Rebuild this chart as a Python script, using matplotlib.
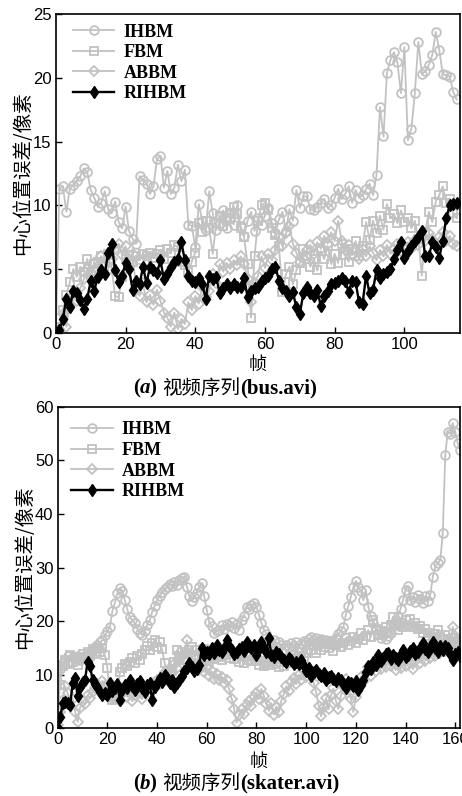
import numpy as np
import matplotlib
matplotlib.use("Agg")
import matplotlib.pyplot as plt
from matplotlib.offsetbox import TextArea, HPacker, AnnotationBbox

# ---- data (center position error, pixels) ----
names = ['IHBM', 'FBM', 'ABBM', 'RIHBM']

bus_ihbm = [0, 11.3, 11.5, 9.5, 11.3, 11.6, 11.9, 12.3, 12.9, 12.6, 11.2, 10.6, 9.9, 10.2, 11.1, 9.7,
            9.4, 10.3, 8.7, 8.2, 9.9, 8.0, 7.4, 7.0, 12.3, 12.0, 11.7, 10.9, 11.5, 13.6, 13.9, 11.4,
            12.7, 10.9, 11.4, 13.2, 11.9, 12.8, 8.5, 8.4, 6.7, 10.1, 8.8, 8.1, 11.1, 9.4, 8.1, 8.6,
            9.6, 8.2, 9.0, 8.5, 10.0, 8.4, 7.6, 8.8, 9.5, 8.0, 9.0, 8.5, 9.2, 9.8, 8.6, 7.8,
            8.9, 9.5, 8.0, 9.7, 8.8, 11.2, 9.8, 10.7, 10.7, 9.7, 9.6, 9.9, 10.2, 10.5, 9.8, 10.0,
            10.6, 11.3, 10.5, 10.9, 11.5, 10.2, 11.2, 10.6, 10.8, 11.3, 11.7, 10.8, 12.4, 17.7, 15.4, 20.4,
            21.4, 22.0, 21.2, 18.8, 22.4, 15.1, 16.0, 18.8, 22.8, 20.3, 20.5, 21.0, 21.8, 23.6, 22.2, 20.3,
            20.2, 20.1, 18.9, 18.3]
bus_fbm = [0.0, 0.5, 1.8, 3.0, 4.0, 5.0, 4.4, 5.2, 4.8, 5.8, 4.5, 5.4, 5.6, 6.0, 5.5, 6.2,
           5.0, 2.9, 2.8, 4.4, 5.8, 6.1, 5.6, 6.0, 5.7, 6.2, 6.0, 6.3, 5.9, 6.2, 6.5, 5.8,
           6.6, 6.3, 6.9, 6.7, 5.6, 5.3, 4.8, 5.6, 6.3, 8.6, 7.9, 8.8, 8.2, 6.2, 8.6, 9.2,
           8.4, 9.0, 9.4, 9.9, 9.3, 8.2, 7.5, 5.4, 1.2, 6.0, 8.8, 10.0, 10.2, 9.6, 8.2, 7.7,
           6.8, 3.2, 4.6, 5.2, 3.8, 4.9, 5.5, 6.6, 6.0, 5.2, 5.8, 4.9, 6.4, 5.8, 6.8, 5.4,
           6.2, 5.5, 7.0, 6.1, 5.6, 6.6, 7.2, 6.0, 6.8, 8.7, 7.3, 8.8, 7.8, 9.2, 8.1, 10.1,
           9.0, 9.3, 8.6, 9.6, 8.7, 9.0, 8.2, 8.8, 7.4, 4.5, 7.9, 9.5, 8.7, 10.3, 10.8, 11.5,
           10.2, 10.5, 9.4, 9.0]
bus_abbm = [0.0, 0.3, 1.5, 0.5, 2.2, 3.0, 2.5, 3.5, 4.2, 5.0, 4.3, 5.5, 5.0, 6.0, 5.4, 6.3,
            5.8, 6.6, 7.0, 6.1, 6.8, 5.6, 6.2, 3.5, 2.9, 3.9, 2.4, 3.0, 2.2, 3.4, 2.5, 1.6,
            1.2, 0.5, 1.6, 0.3, 1.1, 0.7, 2.4, 1.8, 2.9, 2.3, 3.6, 2.8, 3.3, 4.6, 3.9, 5.4,
            4.8, 5.5, 5.0, 5.7, 5.3, 6.0, 5.4, 4.2, 2.4, 3.8, 4.5, 6.0, 5.1, 6.2, 5.7, 6.5,
            7.5, 6.8, 7.8, 8.4, 7.0, 6.3, 5.6, 5.9, 6.5, 6.9, 6.2, 7.1, 6.6, 7.6, 7.0, 7.9,
            7.2, 8.8, 7.2, 6.5, 6.9, 6.1, 6.4, 5.8, 6.6, 6.0, 6.8, 6.3, 5.7, 6.5, 6.0, 6.9,
            6.2, 6.6, 7.0, 6.4, 6.8, 7.1, 6.6, 7.3, 6.9, 7.6, 7.2, 7.8, 7.4, 6.9, 7.5, 7.9,
            7.2, 7.6, 7.0, 6.8]
bus_rihbm = [0.0, 0.2, 1.1, 2.7, 2.0, 3.3, 3.1, 2.6, 1.9, 2.7, 4.1, 3.3, 4.4, 4.9, 4.6, 6.3,
             6.95, 4.9, 4.0, 4.5, 5.5, 5.0, 3.4, 4.1, 3.8, 5.2, 3.9, 5.2, 4.9, 4.7, 5.7, 4.2,
             4.6, 5.2, 5.6, 5.8, 7.1, 5.7, 4.5, 4.1, 4.0, 4.3, 3.8, 2.7, 4.5, 4.2, 4.4, 3.1,
             3.5, 3.8, 3.5, 3.8, 3.6, 3.6, 4.3, 2.8, 3.3, 3.5, 3.6, 4.1, 4.3, 4.5, 5.0, 5.2,
             4.1, 3.5, 3.3, 2.9, 3.2, 2.0, 1.5, 3.1, 3.6, 3.1, 2.9, 3.4, 2.1, 2.9, 3.3, 3.8,
             3.9, 4.1, 4.3, 4.1, 3.2, 4.1, 4.0, 2.4, 2.3, 4.5, 3.1, 3.4, 4.9, 4.3, 4.6, 4.8,
             5.0, 5.8, 6.5, 7.1, 5.9, 6.4, 6.8, 7.2, 7.5, 8.0, 6.0, 6.0, 7.1, 6.7, 5.9, 7.2,
             9.0, 10.0, 10.1, 10.2]

sk_ihbm = [4.0, 11.0, 12.1, 12.8, 13.4, 12.6, 13.2, 12.9, 13.5, 12.7, 13.3, 13.4, 13.0, 14.0, 14.6, 15.2,
           15.6, 16.0, 16.4, 17.3, 18.1, 18.9, 21.9, 23.4, 25.2, 26.1, 25.7, 23.9, 22.2, 20.7, 20.2, 19.6,
           18.6, 17.8, 17.4, 18.2, 19.3, 20.1, 21.7, 22.8, 24.0, 24.6, 25.4, 26.0, 26.4, 27.0, 26.5, 27.3,
           26.8, 27.6, 28.0, 28.3, 26.4, 24.6, 23.8, 24.5, 25.2, 26.4, 27.1, 24.6, 22.0, 19.8, 19.0, 17.7,
           18.1, 18.4, 19.2, 18.6, 19.4, 19.0, 19.8, 18.7, 19.5, 18.4, 20.1, 21.0, 22.7, 22.2, 23.0, 23.3,
           22.6, 21.2, 19.6, 18.4, 17.6, 16.5, 15.8, 16.4, 15.2, 16.0, 15.5, 14.8, 15.6, 14.9, 15.8, 15.3,
           16.1, 15.0, 15.7, 16.3, 16.0, 16.6, 17.0, 16.4, 16.9, 16.2, 16.7, 15.9, 16.4, 15.8, 16.3, 15.6,
           16.9, 17.5, 18.2, 18.9, 21.2, 22.8, 24.5, 26.3, 27.5, 26.4, 25.6, 23.9, 25.8, 22.7, 21.0, 19.6,
           18.5, 17.6, 16.8, 17.4, 16.6, 17.2, 17.7, 19.4, 20.2, 21.0, 22.3, 23.9, 25.8, 26.6, 23.9, 24.5,
           23.6, 24.9, 24.2, 23.3, 24.6, 23.8, 24.9, 28.3, 30.2, 30.8, 31.4, 36.4, 51.0, 55.4, 55.0, 57.0,
           55.4, 53.3, 52.0]
sk_fbm = [3.5, 8.0, 11.5, 12.8, 11.9, 13.6, 12.4, 13.2, 11.8, 12.9, 13.8, 13.1, 14.2, 13.5, 14.8, 13.9,
          15.0, 14.3, 14.9, 13.6, 11.2, 6.0, 5.2, 5.8, 5.4, 10.5, 11.3, 12.0, 11.6, 12.4, 13.0, 12.2,
          13.4, 12.8, 13.8, 14.5, 15.3, 14.6, 15.8, 16.4, 15.1, 16.0, 14.7, 12.2, 10.5, 9.8, 10.6, 12.3,
          14.6, 13.4, 14.2, 12.8, 13.9, 14.6, 15.2, 13.3, 14.5, 12.9, 13.8, 14.7, 13.1, 12.6, 13.5, 12.9,
          14.0, 13.3, 12.7, 13.6, 14.2, 13.0, 13.8, 12.9, 13.5, 12.4, 13.2, 12.1, 12.8, 13.5, 12.5, 13.3,
          12.9, 11.8, 12.6, 11.5, 12.2, 11.7, 12.5, 13.3, 12.0, 11.4, 12.3, 11.6, 12.8, 12.1, 13.0, 13.6,
          12.6, 13.4, 14.3, 13.1, 14.0, 15.6, 14.5, 15.3, 14.1, 15.8, 14.6, 15.2, 16.3, 15.0, 15.7, 14.4,
          15.5, 16.4, 15.1, 15.9, 16.8, 15.6, 16.3, 17.0, 15.8, 16.6, 17.7, 16.5, 17.2, 18.3, 17.0, 20.2,
          18.6, 17.4, 18.1, 17.5, 18.8, 17.9, 19.2, 20.8, 19.0, 18.4, 19.6, 18.8, 20.1, 19.3, 20.4, 18.9,
          19.7, 18.6, 19.0, 17.8, 18.5, 17.2, 17.7, 16.8, 17.5, 18.3, 17.1, 16.4, 17.3, 16.6, 15.9, 16.8,
          16.2, 15.7, 16.4]
sk_abbm = [0.5, 3.0, 5.2, 7.8, 6.5, 4.2, 5.5, 3.0, 1.2, 3.8, 5.0, 4.4, 6.1, 5.6, 6.8, 7.4,
           8.2, 7.6, 8.8, 7.9, 7.0, 6.3, 5.5, 6.8, 6.0, 5.1, 6.4, 7.2, 5.8, 6.6, 5.0, 6.2,
           7.4, 6.6, 5.4, 6.9, 7.8, 6.5, 8.4, 7.7, 9.0, 8.2, 9.6, 10.4, 9.5, 11.2, 10.6, 12.0,
           11.3, 12.6, 13.4, 12.8, 16.4, 13.6, 12.2, 11.4, 12.0, 10.8, 11.6, 10.5, 11.2, 9.8, 10.6, 9.2,
           10.1, 8.9, 9.6, 8.4, 9.0, 7.2, 5.5, 3.6, 1.0, 2.4, 3.5, 2.6, 4.3, 5.0, 4.2, 5.8,
           6.6, 5.4, 7.3, 6.0, 4.4, 3.2, 4.6, 2.5, 4.0, 3.0, 5.1, 6.4, 7.8, 7.0, 8.6, 9.4,
           8.2, 10.0, 9.0, 10.6, 9.6, 11.0, 10.2, 8.4, 6.8, 4.2, 2.2, 4.0, 5.6, 3.5, 6.2, 7.4,
           5.0, 3.6, 6.0, 7.8, 9.2, 7.2, 5.4, 3.0, 5.8, 8.0, 9.6, 8.6, 10.2, 11.4, 9.8, 11.8,
           10.6, 12.2, 11.0, 12.6, 11.4, 13.0, 11.6, 12.4, 10.8, 12.0, 11.2, 12.8, 11.6, 13.4, 12.2, 11.0,
           12.6, 13.6, 12.2, 13.8, 12.6, 14.2, 13.0, 14.6, 13.4, 15.2, 14.0, 15.6, 14.4, 16.2, 15.4, 18.9,
           17.2, 16.0, 15.3]
sk_rihbm = [0.0, 2.0, 4.6, 4.8, 4.6, 4.3, 8.4, 9.3, 5.9, 7.7, 8.6, 9.0, 12.4, 11.6, 9.0, 8.3,
            7.7, 6.8, 6.2, 6.5, 6.2, 8.4, 7.0, 7.4, 8.2, 5.3, 7.1, 8.0, 7.4, 9.0, 7.8, 7.1,
            8.2, 8.7, 7.5, 6.8, 8.0, 8.4, 5.2, 7.6, 8.4, 9.3, 8.6, 9.9, 9.4, 8.4, 8.9, 7.7,
            8.4, 9.0, 9.8, 10.6, 11.2, 12.1, 11.4, 10.6, 11.0, 11.8, 14.9, 13.7, 14.3, 13.8, 14.9, 14.0,
            15.5, 14.6, 14.3, 15.0, 16.5, 15.4, 14.6, 13.9, 14.3, 14.8, 15.2, 14.4, 16.1, 15.3, 14.9, 15.6,
            13.6, 14.7, 16.1, 15.0, 14.3, 16.8, 13.6, 13.2, 14.3, 13.8, 13.3, 12.8, 12.4, 13.0, 12.7, 12.0,
            12.4, 11.9, 12.7, 11.5, 10.6, 11.2, 9.7, 10.4, 10.9, 10.1, 9.7, 10.3, 9.0, 9.5, 9.7, 9.2,
            8.7, 9.4, 9.0, 8.2, 7.4, 8.6, 8.4, 7.8, 8.7, 7.1, 8.0, 9.0, 10.4, 11.5, 11.0, 12.4,
            11.8, 13.6, 12.6, 13.0, 13.8, 14.0, 12.9, 13.6, 13.1, 12.7, 13.9, 14.6, 13.2, 13.6, 14.4, 14.9,
            13.8, 14.3, 15.0, 15.8, 14.7, 14.3, 15.2, 16.1, 15.0, 14.3, 15.4, 14.6, 15.3, 14.9, 13.8, 12.7,
            13.9, 14.3, 13.5]

gray = '#c2c2c2'
styles = [dict(color=gray, marker='o', mfc='none', ms=6.3, mew=1.3, lw=1.3),
          dict(color=gray, marker='s', mfc='none', ms=6.0, mew=1.3, lw=1.3),
          dict(color=gray, marker='D', mfc='none', ms=5.2, mew=1.3, lw=1.3),
          dict(color='black', marker='d', ms=6.2, mew=1.0, lw=1.7)]

fig = plt.figure(figsize=(4.62, 7.96), dpi=100)
ax1 = fig.add_axes([0.121, 0.5817, 0.875, 0.4007])
ax2 = fig.add_axes([0.125, 0.0854, 0.871, 0.4033])

panels = [(ax1, [bus_ihbm, bus_fbm, bus_abbm, bus_rihbm], 116, 25, 5, 'a', 'bus.avi', 0.5415, 0.5126, (0.042, 0.97)),
          (ax2, [sk_ihbm, sk_fbm, sk_abbm, sk_rihbm], 162, 60, 10, 'b', 'skater.avi', 0.0427, 0.0163, (0.033, 0.955))]

for ax, series, xmax, ymax, ystep, tag, vid, xlab_y, cap_y, leg_anchor in panels:
    for name, ys, st in zip(names, series, styles):
        ax.plot(np.arange(len(ys)), ys, label=name, **st)
    ax.set_xlim(0, xmax)
    ax.set_ylim(0, ymax)
    ax.set_xticks(np.arange(0, xmax + 1, 20))
    ax.set_yticks(np.arange(0, ymax + 1, ystep))
    ax.tick_params(direction='in', length=4, width=1, top=False, right=False, pad=3)
    for lab in ax.get_xticklabels() + ax.get_yticklabels():
        lab.set_fontfamily('Liberation Sans')
        lab.set_fontsize(12)
    for sp in ax.spines.values():
        sp.set_linewidth(1.2)
    ax.set_ylabel('中心位置误差/像素', fontfamily='Noto Sans CJK SC', fontsize=14, labelpad=0)
    ax.legend(loc='upper left', bbox_to_anchor=leg_anchor, frameon=False, handlelength=2.3,
              handletextpad=0.5, labelspacing=0.2, borderaxespad=0, borderpad=0,
              prop={'family': 'Liberation Serif', 'size': 13, 'weight': 'bold'})
    # x label and caption
    pos = ax.get_position()
    fig.text(0.5 * (pos.x0 + pos.x1), xlab_y, '帧',
             ha='center', va='center', fontfamily='Noto Sans CJK SC', fontsize=13)
    parts = [TextArea('(', textprops=dict(family='Liberation Serif', weight='bold', size=15)),
             TextArea(tag, textprops=dict(family='Liberation Serif', weight='bold', style='italic', size=15)),
             TextArea(') ', textprops=dict(family='Liberation Serif', weight='bold', size=15)),
             TextArea('视频序列', textprops=dict(family='Noto Sans CJK SC', size=14)),
             TextArea('(' + vid + ')', textprops=dict(family='Liberation Serif', weight='bold', size=15))]
    box = HPacker(children=parts, pad=0, sep=0, align='baseline')
    ab = AnnotationBbox(box, (133 / 462, cap_y), xycoords='figure fraction',
                        box_alignment=(0, 0.5), frameon=False, pad=0)
    fig.add_artist(ab)

fig.savefig('out.png', dpi=100)
